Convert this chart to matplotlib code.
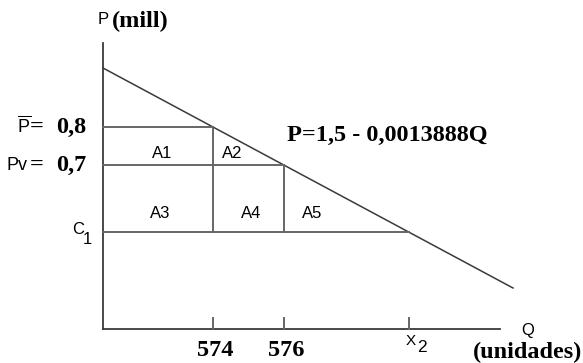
import matplotlib.pyplot as plt
import numpy as np

plt.rcParams['mathtext.fontset'] = 'custom'
plt.rcParams['mathtext.rm'] = 'Liberation Sans'

# schematic units (diagram is not to scale)
p_intercept = 261.0
slope = 220.0 / 410.0
q_end = 410.0
axis_top = 286.0
axis_right = 397.0

p_levels = [202.0, 164.0, 97.0]          # P bar, Pv, C1
q_labels = ["574", "576"]
eq_text = "P=1,5 - 0,0013888Q"
area_labels = ["A1", "A2", "A3", "A4", "A5"]

serif = "Liberation Serif"
sans = "Liberation Sans"
gray = "#666666"
dark = "#3a3a3a"


def demand(q):
    return p_intercept - slope * q


def qty(p):
    return (p_intercept - p) / slope


def main():
    fig = plt.figure(figsize=(5.83, 3.63), dpi=100)
    ax = fig.add_axes([0, 0, 1, 1])
    ax.set_xlim(-103, 480)
    ax.set_ylim(-34, 329)
    ax.axis("off")

    # axes
    ax.plot([0, 0], [0, axis_top], color=dark, lw=1.3)
    ax.plot([0, axis_right], [0, 0], color=dark, lw=1.3)

    # demand curve
    qs = np.array([0, q_end])
    ax.plot(qs, demand(qs), color=dark, lw=1.1)

    q1, q2, qx = [qty(p) for p in p_levels]
    pbar, pv, c1 = p_levels

    # horizontal lines
    for p in p_levels:
        ax.plot([0, qty(p)], [p, p], color=gray, lw=1.4)
    # verticals
    ax.plot([q1, q1], [c1, pbar], color=gray, lw=1.4)
    ax.plot([q2, q2], [c1, pv], color=gray, lw=1.4)
    # ticks
    for q in [q1, q2, qx]:
        ax.plot([q, q], [0, 11], color=gray, lw=1.4)

    # area labels
    kw = dict(family=sans, fontsize=12, ha="center", va="center")
    ax.text(q1 / 2 + 4, pbar - 26, area_labels[0], **kw)
    ax.text(q1 + 19, pbar - 26, area_labels[1], **kw)
    ax.text(q1 / 2 + 2, c1 + 19, area_labels[2], **kw)
    ax.text((q1 + q2) / 2 + 3, c1 + 19, area_labels[3], **kw)
    ax.text(q2 + 28, c1 + 19, area_labels[4], **kw)

    # price labels
    bold = dict(family=serif, fontweight="bold", fontsize=17.5, va="center")
    ax.text(-86, pbar + 1, r"$\overline{\mathrm{P}}$", fontsize=13, ha="left", va="center")
    ax.text(-66, pbar, "=", ha="center", **bold)
    ax.text(-17, pbar, "0,8", ha="right", **bold)
    ax.text(-96, pv, "Pv", family=sans, fontsize=13, ha="left", va="center")
    ax.text(-66, pv, "=", ha="center", **bold)
    ax.text(-17, pv, "0,7", ha="right", **bold)
    ax.text(-31, c1 + 3, "C", family=sans, fontsize=12, ha="left", va="center")
    ax.text(-20, c1 - 7, "1", family=sans, fontsize=12, ha="left", va="center")

    # axis labels
    ax.text(-5, 309, "P", family=sans, fontsize=12, ha="left", va="center")
    ax.text(9, 308, "(mill)", ha="left", **bold)
    ax.text(425, -1, "Q", family=sans, fontsize=12, ha="center", va="center")
    ax.text(479, -23, "(unidades)", ha="right", **bold)

    # quantity labels
    for q, lab in zip([q1, q2], q_labels):
        ax.text(q + 2, -21, lab, ha="center", **bold)
    ax.text(qx - 3, -12, "X", family=sans, fontsize=11, ha="left", va="center")
    ax.text(qx + 8, -19, "2", family=sans, fontsize=12.5, ha="left", va="center")

    # equation
    ax.text(184, 194, eq_text, ha="left", **bold)

    fig.savefig("out.png", dpi=100)


if __name__ == "__main__":
    main()
